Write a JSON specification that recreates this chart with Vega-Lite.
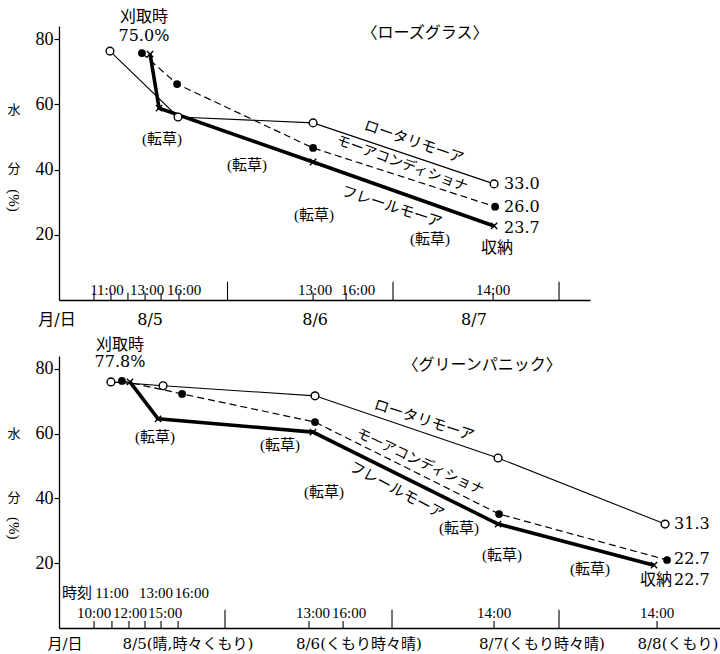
{
  "$schema": "https://vega.github.io/schema/vega-lite/v6.json",
  "background": "white",
  "padding": {"left": 6, "top": 8, "right": 0, "bottom": 0},
  "bounds": "flush",
  "spacing": 56,
  "config": {
    "view": {"stroke": null},
    "text": {"color": "black"}
  },
  "datasets": {
    "pts": [
      {"p": "A", "s": "R", "x": 0.294, "v": 76.3},
      {"p": "A", "s": "R", "x": 0.703, "v": 56.1},
      {"p": "A", "s": "R", "x": 1.514, "v": 54.3},
      {"p": "A", "s": "R", "x": 2.601, "v": 35.6},
      {"p": "A", "s": "C", "x": 0.486, "v": 75.7},
      {"p": "A", "s": "C", "x": 0.697, "v": 66.2},
      {"p": "A", "s": "C", "x": 1.514, "v": 46.6},
      {"p": "A", "s": "C", "x": 2.607, "v": 28.6},
      {"p": "A", "s": "F", "x": 0.535, "v": 75.4},
      {"p": "A", "s": "F", "x": 0.589, "v": 58.8},
      {"p": "A", "s": "F", "x": 1.514, "v": 42.3},
      {"p": "A", "s": "F", "x": 2.601, "v": 22.7},
      {"p": "B", "s": "R", "x": 0.317, "v": 76.0},
      {"p": "B", "s": "R", "x": 0.629, "v": 74.8},
      {"p": "B", "s": "R", "x": 1.539, "v": 71.7},
      {"p": "B", "s": "R", "x": 2.635, "v": 52.5},
      {"p": "B", "s": "R", "x": 3.635, "v": 32.1},
      {"p": "B", "s": "C", "x": 0.383, "v": 76.3},
      {"p": "B", "s": "C", "x": 0.743, "v": 72.3},
      {"p": "B", "s": "C", "x": 1.539, "v": 63.6},
      {"p": "B", "s": "C", "x": 2.641, "v": 35.2},
      {"p": "B", "s": "C", "x": 3.647, "v": 21.0},
      {"p": "B", "s": "F", "x": 0.431, "v": 76.0},
      {"p": "B", "s": "F", "x": 0.599, "v": 64.6},
      {"p": "B", "s": "F", "x": 1.527, "v": 60.5},
      {"p": "B", "s": "F", "x": 2.635, "v": 32.1},
      {"p": "B", "s": "F", "x": 3.569, "v": 19.4}
    ],
    "ticks": [
      {"p": "A", "k": "minor", "x": 0.198, "v": 0},
      {"p": "A", "k": "minor", "x": 0.300, "v": 0},
      {"p": "A", "k": "minor", "x": 0.402, "v": 0},
      {"p": "A", "k": "minor", "x": 0.505, "v": 0},
      {"p": "A", "k": "minor", "x": 0.601, "v": 0},
      {"p": "A", "k": "minor", "x": 0.709, "v": 0},
      {"p": "A", "k": "minor", "x": 1.514, "v": 0},
      {"p": "A", "k": "minor", "x": 1.712, "v": 0},
      {"p": "A", "k": "minor", "x": 2.595, "v": 0},
      {"p": "A", "k": "major", "x": 1.0, "v": 0},
      {"p": "A", "k": "major", "x": 1.994, "v": 0},
      {"p": "A", "k": "major", "x": 2.991, "v": 0},
      {"p": "B", "k": "minor", "x": 0.216, "v": 0},
      {"p": "B", "k": "minor", "x": 0.323, "v": 0},
      {"p": "B", "k": "minor", "x": 0.425, "v": 0},
      {"p": "B", "k": "minor", "x": 0.521, "v": 0},
      {"p": "B", "k": "minor", "x": 0.617, "v": 0},
      {"p": "B", "k": "minor", "x": 0.719, "v": 0},
      {"p": "B", "k": "minor", "x": 1.503, "v": 0},
      {"p": "B", "k": "minor", "x": 1.707, "v": 0},
      {"p": "B", "k": "minor", "x": 2.611, "v": 0},
      {"p": "B", "k": "minor", "x": 3.587, "v": 0},
      {"p": "B", "k": "major", "x": 1.0, "v": 0},
      {"p": "B", "k": "major", "x": 2.0, "v": 0},
      {"p": "B", "k": "major", "x": 3.0, "v": 0}
    ],
    "txt": [
      {"p": "A", "k": "cut", "t": "刈取時", "x": 0.498, "v": 86.8},
      {"p": "A", "k": "cut", "t": "75.0%", "x": 0.498, "v": 81.0},
      {"p": "A", "k": "title", "t": "〈ローズグラス〉", "x": 2.186, "v": 81.8},
      {"p": "A", "k": "store", "t": "収納", "x": 2.619, "v": 16.0},
      {"p": "A", "k": "tenso", "t": "(転草)", "x": 0.607, "v": 49.3},
      {"p": "A", "k": "tenso", "t": "(転草)", "x": 1.117, "v": 41.4},
      {"p": "A", "k": "tenso", "t": "(転草)", "x": 1.520, "v": 26.1},
      {"p": "A", "k": "tenso", "t": "(転草)", "x": 2.216, "v": 18.8},
      {"p": "A", "k": "value", "t": "33.0", "x": 2.661, "v": 35.6},
      {"p": "A", "k": "value", "t": "26.0", "x": 2.661, "v": 28.6},
      {"p": "A", "k": "value", "t": "23.7", "x": 2.661, "v": 22.1},
      {"p": "A", "k": "s1", "t": "ロータリモーア", "x": 2.120, "v": 48.5},
      {"p": "A", "k": "s2", "t": "モーアコンディショナ", "x": 2.048, "v": 41.7},
      {"p": "A", "k": "s3", "t": "フレールモーア", "x": 1.988, "v": 28.6},
      {"p": "A", "k": "ytitle", "t": "水", "x": -0.282, "v": 58.2},
      {"p": "A", "k": "ytitle", "t": "分", "x": -0.282, "v": 40.2},
      {"p": "A", "k": "ypct", "t": "(%)", "x": -0.282, "v": 30.5},
      {"p": "A", "k": "time", "t": "11:00", "x": 0.276, "v": 3.2},
      {"p": "A", "k": "time", "t": "13:00", "x": 0.517, "v": 3.2},
      {"p": "A", "k": "time", "t": "16:00", "x": 0.739, "v": 3.2},
      {"p": "A", "k": "time", "t": "13:00", "x": 1.526, "v": 3.2},
      {"p": "A", "k": "time", "t": "16:00", "x": 1.784, "v": 3.2},
      {"p": "A", "k": "time", "t": "14:00", "x": 2.595, "v": 3.2},
      {"p": "A", "k": "date", "t": "月/日", "x": -0.024, "v": -6.0},
      {"p": "A", "k": "date", "t": "8/5", "x": 0.535, "v": -6.0},
      {"p": "A", "k": "date", "t": "8/6", "x": 1.526, "v": -6.0},
      {"p": "A", "k": "date", "t": "8/7", "x": 2.480, "v": -6.0},

      {"p": "B", "k": "cut", "t": "刈取時", "x": 0.371, "v": 87.4},
      {"p": "B", "k": "cut", "t": "77.8%", "x": 0.371, "v": 82.0},
      {"p": "B", "k": "title", "t": "〈グリーンパニック〉", "x": 2.539, "v": 81.2},
      {"p": "B", "k": "store", "t": "収納", "x": 3.581, "v": 14.7},
      {"p": "B", "k": "tenso", "t": "(転草)", "x": 0.581, "v": 59.0},
      {"p": "B", "k": "tenso", "t": "(転草)", "x": 1.329, "v": 56.5},
      {"p": "B", "k": "tenso", "t": "(転草)", "x": 1.593, "v": 42.0},
      {"p": "B", "k": "tenso", "t": "(転草)", "x": 2.401, "v": 30.8},
      {"p": "B", "k": "tenso", "t": "(転草)", "x": 2.659, "v": 22.5},
      {"p": "B", "k": "tenso", "t": "(転草)", "x": 3.186, "v": 18.1},
      {"p": "B", "k": "value", "t": "31.3", "x": 3.689, "v": 32.1},
      {"p": "B", "k": "value", "t": "22.7", "x": 3.689, "v": 21.2},
      {"p": "B", "k": "value", "t": "22.7", "x": 3.689, "v": 14.7},
      {"p": "B", "k": "s1", "t": "ロータリモーア", "x": 2.192, "v": 64.2},
      {"p": "B", "k": "s2", "t": "モーアコンディショナ", "x": 2.168, "v": 51.2},
      {"p": "B", "k": "s3", "t": "フレールモーア", "x": 2.030, "v": 42.6},
      {"p": "B", "k": "ytitle", "t": "水", "x": -0.263, "v": 59.9},
      {"p": "B", "k": "ytitle", "t": "分", "x": -0.263, "v": 40.3},
      {"p": "B", "k": "ypct", "t": "(%)", "x": -0.263, "v": 30.8},
      {"p": "B", "k": "time", "t": "時刻", "x": 0.114, "v": 10.7},
      {"p": "B", "k": "time", "t": "11:00", "x": 0.323, "v": 10.7},
      {"p": "B", "k": "time", "t": "13:00", "x": 0.587, "v": 10.7},
      {"p": "B", "k": "time", "t": "16:00", "x": 0.802, "v": 10.7},
      {"p": "B", "k": "time", "t": "10:00", "x": 0.216, "v": 4.6},
      {"p": "B", "k": "time", "t": "12:00", "x": 0.431, "v": 4.6},
      {"p": "B", "k": "time", "t": "15:00", "x": 0.641, "v": 4.6},
      {"p": "B", "k": "time", "t": "13:00", "x": 1.527, "v": 4.6},
      {"p": "B", "k": "time", "t": "16:00", "x": 1.743, "v": 4.6},
      {"p": "B", "k": "time", "t": "14:00", "x": 2.611, "v": 4.6},
      {"p": "B", "k": "time", "t": "14:00", "x": 3.587, "v": 4.6},
      {"p": "B", "k": "date", "t": "月/日", "x": 0.042, "v": -5.0},
      {"p": "B", "k": "date", "t": "8/5(晴,時々くもり)", "x": 0.778, "v": -5.0},
      {"p": "B", "k": "date", "t": "8/6(くもり時々晴)", "x": 1.802, "v": -5.0},
      {"p": "B", "k": "date", "t": "8/7(くもり時々晴)", "x": 2.898, "v": -5.0},
      {"p": "B", "k": "date", "t": "8/8(くもり)", "x": 3.712, "v": -5.0}
    ]
  },
  "vconcat": [
    {
      "width": 531,
      "height": 274,
      "encoding": {
        "x": {"field": "x", "type": "quantitative", "title": null,
          "scale": {"domain": [-0.012, 3.177], "nice": false, "zero": false},
          "axis": {"ticks": false, "labels": false, "grid": false, "domainColor": "black", "domainWidth": 1.3}},
        "y": {"field": "v", "type": "quantitative", "title": null,
          "scale": {"domain": [0, 84], "nice": false, "zero": false},
          "axis": {"values": [20, 40, 60, 80], "grid": false, "tickSize": 5, "tickColor": "black", "tickWidth": 1.2,
            "domainColor": "black", "domainWidth": 1.3, "labelFont": "Liberation Serif", "labelFontSize": 18,
            "labelColor": "black", "labelPadding": 1}}
      },
      "layer": [
        {"data": {"name": "ticks"}, "transform": [{"filter": "datum.p == 'A' && datum.k == 'minor'"}],
          "mark": {"type": "rule", "color": "black", "strokeWidth": 1.1}, "encoding": {"y2": {"datum": 2.2}}},
        {"data": {"name": "ticks"}, "transform": [{"filter": "datum.p == 'A' && datum.k == 'major'"}],
          "mark": {"type": "rule", "color": "black", "strokeWidth": 1.1}, "encoding": {"y2": {"datum": 5.6}}},
        {"data": {"name": "pts"}, "transform": [{"filter": "datum.p == 'A' && datum.s == 'R'"}],
          "mark": {"type": "line", "color": "black", "strokeWidth": 1.1}, "encoding": {}},
        {"data": {"name": "pts"}, "transform": [{"filter": "datum.p == 'A' && datum.s == 'C'"}],
          "mark": {"type": "line", "color": "black", "strokeWidth": 1.2, "strokeDash": [7, 4]}, "encoding": {}},
        {"data": {"name": "pts"}, "transform": [{"filter": "datum.p == 'A' && datum.s == 'F'"}],
          "mark": {"type": "line", "color": "black", "strokeWidth": 3.6}, "encoding": {}},
        {"data": {"name": "pts"}, "transform": [{"filter": "datum.p == 'A' && datum.s == 'R'"}],
          "mark": {"type": "point", "shape": "circle", "size": 60, "filled": true, "fill": "white", "stroke": "black", "strokeWidth": 1.4, "opacity": 1}},
        {"data": {"name": "pts"}, "transform": [{"filter": "datum.p == 'A' && datum.s == 'C'"}],
          "mark": {"type": "point", "shape": "circle", "size": 60, "filled": true, "fill": "black", "opacity": 1}},
        {"data": {"name": "pts"}, "transform": [{"filter": "datum.p == 'A' && datum.s == 'F'"}],
          "mark": {"type": "point", "shape": "M-1,-1L1,1M-1,1L1,-1", "size": 40, "filled": false, "stroke": "black", "strokeWidth": 1.4, "opacity": 1}},
        {"data": {"name": "txt"}, "transform": [{"filter": "datum.p == 'A' && datum.k == 'cut'"}],
          "mark": {"type": "text", "font": "DejaVu Serif, Noto Sans CJK JP", "fontSize": 16, "align": "center", "baseline": "middle"},
          "encoding": {"text": {"field": "t"}}},
        {"data": {"name": "txt"}, "transform": [{"filter": "datum.p == 'A' && datum.k == 'title'"}],
          "mark": {"type": "text", "font": "Noto Sans CJK JP", "fontSize": 16, "align": "center", "baseline": "middle"},
          "encoding": {"text": {"field": "t"}}},
        {"data": {"name": "txt"}, "transform": [{"filter": "datum.p == 'A' && datum.k == 'store'"}],
          "mark": {"type": "text", "font": "Noto Sans CJK JP", "fontSize": 16, "align": "center", "baseline": "middle"},
          "encoding": {"text": {"field": "t"}}},
        {"data": {"name": "txt"}, "transform": [{"filter": "datum.p == 'A' && datum.k == 'tenso'"}],
          "mark": {"type": "text", "font": "Liberation Serif, Noto Sans CJK JP", "fontSize": 15, "align": "center", "baseline": "middle"},
          "encoding": {"text": {"field": "t"}}},
        {"data": {"name": "txt"}, "transform": [{"filter": "datum.p == 'A' && datum.k == 'value'"}],
          "mark": {"type": "text", "font": "DejaVu Serif", "fontSize": 16, "align": "left", "baseline": "middle"},
          "encoding": {"text": {"field": "t"}}},
        {"data": {"name": "txt"}, "transform": [{"filter": "datum.p == 'A' && datum.k == 's1'"}],
          "mark": {"type": "text", "font": "Noto Sans CJK JP", "fontSize": 15, "align": "center", "baseline": "middle", "angle": 19},
          "encoding": {"text": {"field": "t"}}},
        {"data": {"name": "txt"}, "transform": [{"filter": "datum.p == 'A' && datum.k == 's2'"}],
          "mark": {"type": "text", "font": "Noto Sans CJK JP", "fontSize": 14, "align": "center", "baseline": "middle", "angle": 20},
          "encoding": {"text": {"field": "t"}}},
        {"data": {"name": "txt"}, "transform": [{"filter": "datum.p == 'A' && datum.k == 's3'"}],
          "mark": {"type": "text", "font": "Noto Sans CJK JP", "fontSize": 15, "align": "center", "baseline": "middle", "angle": 18},
          "encoding": {"text": {"field": "t"}}},
        {"data": {"name": "txt"}, "transform": [{"filter": "datum.p == 'A' && datum.k == 'ytitle'"}],
          "mark": {"type": "text", "font": "Noto Sans CJK JP", "fontSize": 13, "align": "center", "baseline": "middle"},
          "encoding": {"text": {"field": "t"}}},
        {"data": {"name": "txt"}, "transform": [{"filter": "datum.p == 'A' && datum.k == 'ypct'"}],
          "mark": {"type": "text", "font": "Liberation Serif", "fontSize": 15, "align": "center", "baseline": "middle", "angle": 90},
          "encoding": {"text": {"field": "t"}}},
        {"data": {"name": "txt"}, "transform": [{"filter": "datum.p == 'A' && datum.k == 'time'"}],
          "mark": {"type": "text", "font": "Liberation Serif, Noto Sans CJK JP", "fontSize": 15, "align": "center", "baseline": "middle"},
          "encoding": {"text": {"field": "t"}}},
        {"data": {"name": "txt"}, "transform": [{"filter": "datum.p == 'A' && datum.k == 'date'"}],
          "mark": {"type": "text", "font": "DejaVu Serif, Noto Sans CJK JP", "fontSize": 16, "align": "center", "baseline": "middle"},
          "encoding": {"text": {"field": "t"}}}
      ]
    },
    {
      "width": 661,
      "height": 272,
      "encoding": {
        "x": {"field": "x", "type": "quantitative", "title": null,
          "scale": {"domain": [0.006, 3.964], "nice": false, "zero": false},
          "axis": {"ticks": false, "labels": false, "grid": false, "domainColor": "black", "domainWidth": 1.3}},
        "y": {"field": "v", "type": "quantitative", "title": null,
          "scale": {"domain": [0, 84], "nice": false, "zero": false},
          "axis": {"values": [20, 40, 60, 80], "grid": false, "tickSize": 5, "tickColor": "black", "tickWidth": 1.2,
            "domainColor": "black", "domainWidth": 1.3, "labelFont": "Liberation Serif", "labelFontSize": 18,
            "labelColor": "black", "labelPadding": 1}}
      },
      "layer": [
        {"data": {"name": "ticks"}, "transform": [{"filter": "datum.p == 'B' && datum.k == 'minor'"}],
          "mark": {"type": "rule", "color": "black", "strokeWidth": 1.1}, "encoding": {"y2": {"datum": 2.2}}},
        {"data": {"name": "ticks"}, "transform": [{"filter": "datum.p == 'B' && datum.k == 'major'"}],
          "mark": {"type": "rule", "color": "black", "strokeWidth": 1.1}, "encoding": {"y2": {"datum": 5.6}}},
        {"data": {"name": "pts"}, "transform": [{"filter": "datum.p == 'B' && datum.s == 'R'"}],
          "mark": {"type": "line", "color": "black", "strokeWidth": 1.1}, "encoding": {}},
        {"data": {"name": "pts"}, "transform": [{"filter": "datum.p == 'B' && datum.s == 'C'"}],
          "mark": {"type": "line", "color": "black", "strokeWidth": 1.2, "strokeDash": [7, 4]}, "encoding": {}},
        {"data": {"name": "pts"}, "transform": [{"filter": "datum.p == 'B' && datum.s == 'F'"}],
          "mark": {"type": "line", "color": "black", "strokeWidth": 3.6}, "encoding": {}},
        {"data": {"name": "pts"}, "transform": [{"filter": "datum.p == 'B' && datum.s == 'R'"}],
          "mark": {"type": "point", "shape": "circle", "size": 60, "filled": true, "fill": "white", "stroke": "black", "strokeWidth": 1.4, "opacity": 1}},
        {"data": {"name": "pts"}, "transform": [{"filter": "datum.p == 'B' && datum.s == 'C'"}],
          "mark": {"type": "point", "shape": "circle", "size": 60, "filled": true, "fill": "black", "opacity": 1}},
        {"data": {"name": "pts"}, "transform": [{"filter": "datum.p == 'B' && datum.s == 'F'"}],
          "mark": {"type": "point", "shape": "M-1,-1L1,1M-1,1L1,-1", "size": 40, "filled": false, "stroke": "black", "strokeWidth": 1.4, "opacity": 1}},
        {"data": {"name": "txt"}, "transform": [{"filter": "datum.p == 'B' && datum.k == 'cut'"}],
          "mark": {"type": "text", "font": "DejaVu Serif, Noto Sans CJK JP", "fontSize": 16, "align": "center", "baseline": "middle"},
          "encoding": {"text": {"field": "t"}}},
        {"data": {"name": "txt"}, "transform": [{"filter": "datum.p == 'B' && datum.k == 'title'"}],
          "mark": {"type": "text", "font": "Noto Sans CJK JP", "fontSize": 16, "align": "center", "baseline": "middle"},
          "encoding": {"text": {"field": "t"}}},
        {"data": {"name": "txt"}, "transform": [{"filter": "datum.p == 'B' && datum.k == 'store'"}],
          "mark": {"type": "text", "font": "Noto Sans CJK JP", "fontSize": 16, "align": "center", "baseline": "middle"},
          "encoding": {"text": {"field": "t"}}},
        {"data": {"name": "txt"}, "transform": [{"filter": "datum.p == 'B' && datum.k == 'tenso'"}],
          "mark": {"type": "text", "font": "Liberation Serif, Noto Sans CJK JP", "fontSize": 15, "align": "center", "baseline": "middle"},
          "encoding": {"text": {"field": "t"}}},
        {"data": {"name": "txt"}, "transform": [{"filter": "datum.p == 'B' && datum.k == 'value'"}],
          "mark": {"type": "text", "font": "DejaVu Serif", "fontSize": 16, "align": "left", "baseline": "middle"},
          "encoding": {"text": {"field": "t"}}},
        {"data": {"name": "txt"}, "transform": [{"filter": "datum.p == 'B' && datum.k == 's1'"}],
          "mark": {"type": "text", "font": "Noto Sans CJK JP", "fontSize": 15, "align": "center", "baseline": "middle", "angle": 18},
          "encoding": {"text": {"field": "t"}}},
        {"data": {"name": "txt"}, "transform": [{"filter": "datum.p == 'B' && datum.k == 's2'"}],
          "mark": {"type": "text", "font": "Noto Sans CJK JP", "fontSize": 14, "align": "center", "baseline": "middle", "angle": 25},
          "encoding": {"text": {"field": "t"}}},
        {"data": {"name": "txt"}, "transform": [{"filter": "datum.p == 'B' && datum.k == 's3'"}],
          "mark": {"type": "text", "font": "Noto Sans CJK JP", "fontSize": 15, "align": "center", "baseline": "middle", "angle": 28},
          "encoding": {"text": {"field": "t"}}},
        {"data": {"name": "txt"}, "transform": [{"filter": "datum.p == 'B' && datum.k == 'ytitle'"}],
          "mark": {"type": "text", "font": "Noto Sans CJK JP", "fontSize": 13, "align": "center", "baseline": "middle"},
          "encoding": {"text": {"field": "t"}}},
        {"data": {"name": "txt"}, "transform": [{"filter": "datum.p == 'B' && datum.k == 'ypct'"}],
          "mark": {"type": "text", "font": "Liberation Serif", "fontSize": 15, "align": "center", "baseline": "middle", "angle": 90},
          "encoding": {"text": {"field": "t"}}},
        {"data": {"name": "txt"}, "transform": [{"filter": "datum.p == 'B' && datum.k == 'time'"}],
          "mark": {"type": "text", "font": "Liberation Serif, Noto Sans CJK JP", "fontSize": 15, "align": "center", "baseline": "middle"},
          "encoding": {"text": {"field": "t"}}},
        {"data": {"name": "txt"}, "transform": [{"filter": "datum.p == 'B' && datum.k == 'date'"}],
          "mark": {"type": "text", "font": "DejaVu Serif, Noto Sans CJK JP", "fontSize": 15, "align": "center", "baseline": "middle"},
          "encoding": {"text": {"field": "t"}}}
      ]
    }
  ]
}
